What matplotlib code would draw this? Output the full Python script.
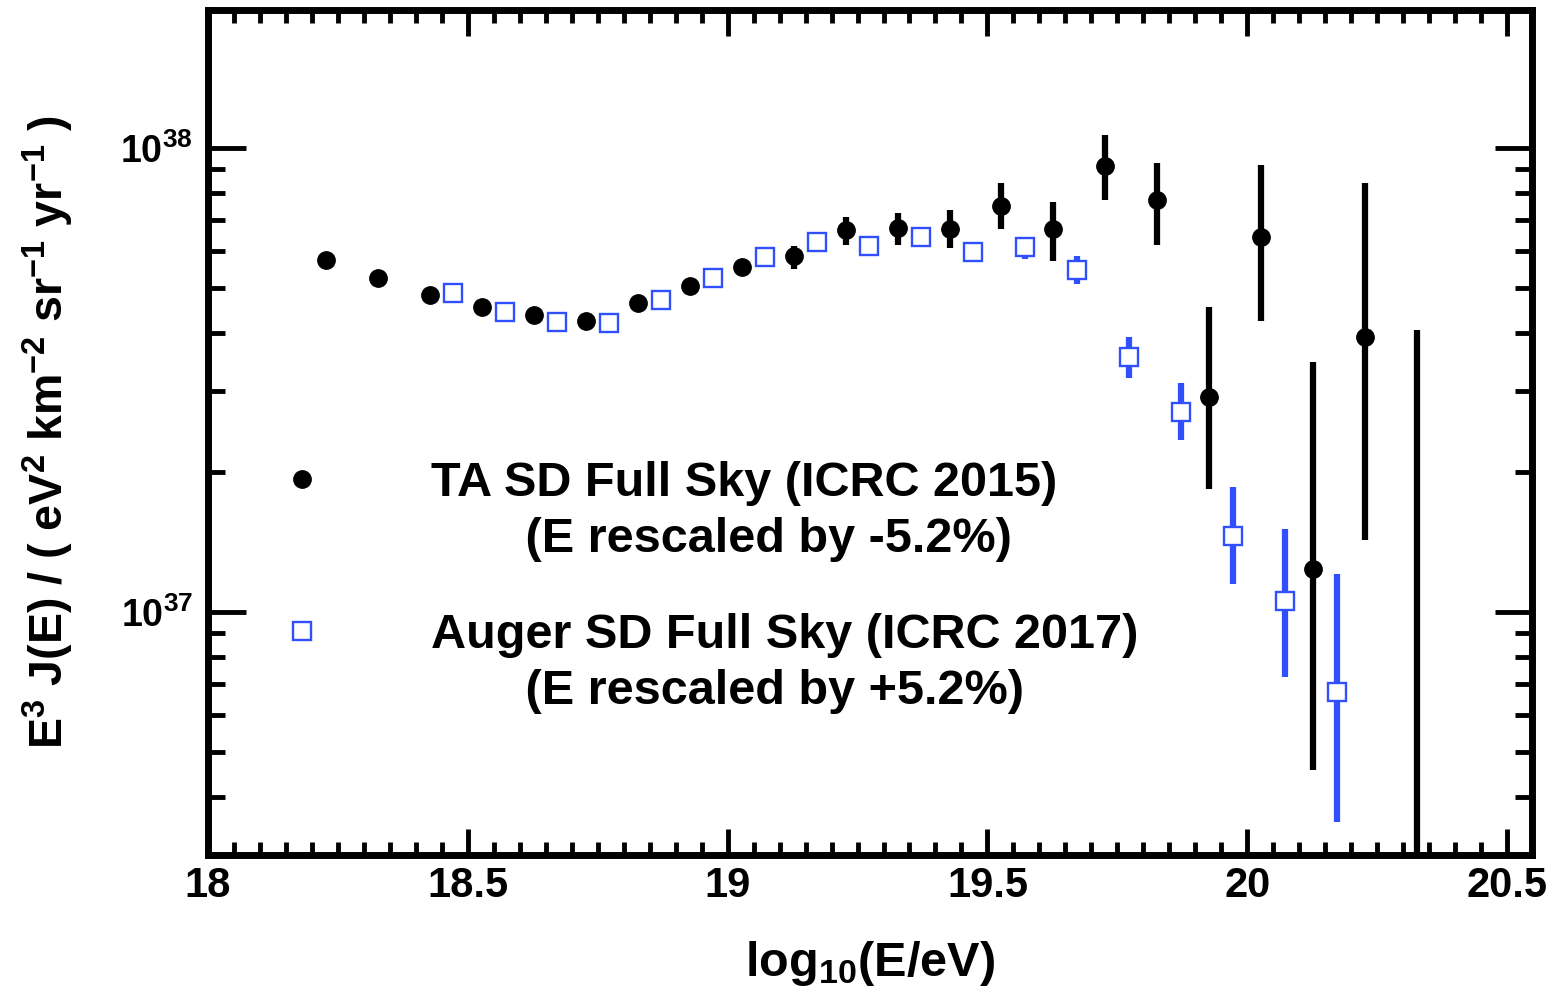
import numpy as np
import matplotlib
matplotlib.use('Agg')
import matplotlib.pyplot as plt
from matplotlib.lines import Line2D
from matplotlib.ticker import FixedLocator, NullFormatter, MultipleLocator

# ---------------- data ----------------
ta_logE = [18.227, 18.327, 18.427, 18.527, 18.627, 18.727, 18.827, 18.927, 19.027, 19.127,
           19.227, 19.327, 19.427, 19.527, 19.627, 19.727, 19.827, 19.927, 20.027, 20.127,
           20.227, 20.327]
ta_flux = [5.72, 5.24, 4.81, 4.54, 4.36, 4.23, 4.63, 5.03, 5.55, 5.84,
           6.64, 6.73, 6.70, 7.51, 6.70, 9.15, 7.70, 2.91, 6.44, 1.24,
           3.91, 0.25]
ta_lo = [5.64, 5.17, 4.74, 4.47, 4.29, 4.16, 4.55, 4.95, 5.45, 5.47,
         6.19, 6.19, 6.07, 6.70, 5.69, 7.70, 6.16, 1.84, 4.23, 0.458,
         1.43, 0.10]
ta_hi = [5.80, 5.31, 4.88, 4.61, 4.43, 4.30, 4.71, 5.11, 5.65, 6.13,
         7.08, 7.25, 7.36, 8.41, 7.66, 10.66, 9.29, 4.54, 9.19, 3.46,
         8.41, 4.05]

au_logE = [18.472, 18.572, 18.672, 18.772, 18.872, 18.972, 19.072, 19.172, 19.272, 19.372,
           19.472, 19.572, 19.672, 19.772, 19.872, 19.972, 20.072, 20.172]
au_flux = [4.86, 4.42, 4.21, 4.19, 4.70, 5.24, 5.81, 6.28, 6.13, 6.44,
           5.95, 6.10, 5.45, 3.54, 2.70, 1.46, 1.056, 0.673]
au_lo = [4.80, 4.37, 4.16, 4.14, 4.65, 5.19, 5.75, 6.22, 6.07, 6.38,
         5.89, 5.75, 5.08, 3.19, 2.35, 1.15, 0.725, 0.353]
au_hi = [4.92, 4.47, 4.26, 4.24, 4.75, 5.29, 5.87, 6.34, 6.19, 6.50,
         6.01, 6.44, 5.86, 3.91, 3.12, 1.86, 1.51, 1.21]
unit = 1e37

ta_label1 = 'TA SD Full Sky (ICRC 2015)'
ta_label2 = '       (E rescaled by -5.2%)'
au_label1 = 'Auger SD Full Sky (ICRC 2017)'
au_label2 = '       (E rescaled by +5.2%)'

x_major = [18, 18.5, 19, 19.5, 20, 20.5]
x_major_labels = ['18', '18.5', '19', '19.5', '20', '20.5']
y_major = [1e37, 1e38]
y_major_labels = [r'$10^{37}$', r'$10^{38}$']

# ---------------- style ----------------
FAM = 'Liberation Sans'
plt.rcParams['font.family'] = [FAM, 'DejaVu Sans']
plt.rcParams['font.weight'] = 'bold'
plt.rcParams['mathtext.fontset'] = 'custom'
plt.rcParams['mathtext.rm'] = FAM + ':bold'
plt.rcParams['mathtext.bf'] = FAM + ':bold'
plt.rcParams['mathtext.it'] = FAM + ':bold'
plt.rcParams['mathtext.default'] = 'regular'

BLUE = '#3050ff'
W, H = 1556, 1002
fig = plt.figure(figsize=(W / 100, H / 100), dpi=100)
L, R, T, B = 208, 1532, 10, 855
ax = fig.add_axes([L / W, 1 - B / H, (R - L) / W, (B - T) / H])

ta_x = np.array(ta_logE)
ta_y = np.array(ta_flux) * unit
au_x = np.array(au_logE)
au_y = np.array(au_flux) * unit

# error bars
ax.vlines(ta_x, np.array(ta_lo) * unit, np.array(ta_hi) * unit, color='black',
          linewidth=4.5, zorder=2, capstyle='butt')
ax.vlines(au_x, np.array(au_lo) * unit, np.array(au_hi) * unit, color=BLUE,
          linewidth=4.5, zorder=2, capstyle='butt')
# markers
ta_line, = ax.plot(ta_x, ta_y, 'o', color='black', ms=12.5, zorder=3)
au_line, = ax.plot(au_x, au_y, 's', mfc='white', mec=BLUE, mew=1.7, ms=13, zorder=4)

ax.set_yscale('log')
ax.set_xlim(18, 20.548)
ax.set_ylim(3e36, 1.98e38)

# ticks
ax.xaxis.set_major_locator(FixedLocator(x_major))
ax.xaxis.set_minor_locator(MultipleLocator(0.05))
ax.set_xticklabels(x_major_labels, fontsize=30, fontweight='bold')
ax.yaxis.set_major_locator(FixedLocator(y_major))
ax.yaxis.set_minor_locator(FixedLocator([k * 1e36 for k in range(3, 10)] + [k * 1e37 for k in range(2, 10)]))
ax.yaxis.set_minor_formatter(NullFormatter())
ax.set_yticklabels(y_major_labels, fontsize=27, fontweight='bold')

ax.tick_params(axis='x', which='major', direction='in', length=19, width=3.5, top=True, pad=8)
ax.tick_params(axis='x', which='minor', direction='in', length=9.5, width=3.5, top=True)
ax.tick_params(axis='y', which='major', direction='in', length=27, width=3.5, right=True, pad=11)
ax.tick_params(axis='y', which='minor', direction='in', length=12, width=3.5, right=True)
for s in ax.spines.values():
    s.set_linewidth(5)

ax.set_xlabel(r'log$_{10}$(E/eV)', fontsize=35, fontweight='bold', labelpad=24)
ax.set_ylabel(r'E$^{3}$ J(E) / ( eV$^{2}$ km$^{-2}$ sr$^{-1}$ yr$^{-1}$ )',
              fontsize=33.5, fontweight='bold')
ax.yaxis.set_label_coords(-0.1, 0.5)

# legends
blank = Line2D([], [], ls='none', marker='none')
lp = dict(frameon=False, loc='upper left', borderpad=0, borderaxespad=0,
          handlelength=1.0, handletextpad=2.15, labelspacing=0.22,
          prop={'family': FAM, 'weight': 'bold', 'size': 35})
leg1 = ax.legend([ta_line, blank], [ta_label1, ta_label2],
                 bbox_to_anchor=(0.053, 0.466), **lp)
ax.add_artist(leg1)
leg2 = ax.legend([au_line, blank], [au_label1, au_label2],
                 bbox_to_anchor=(0.053, 0.286), **lp)

fig.savefig('out.png', dpi=100)
